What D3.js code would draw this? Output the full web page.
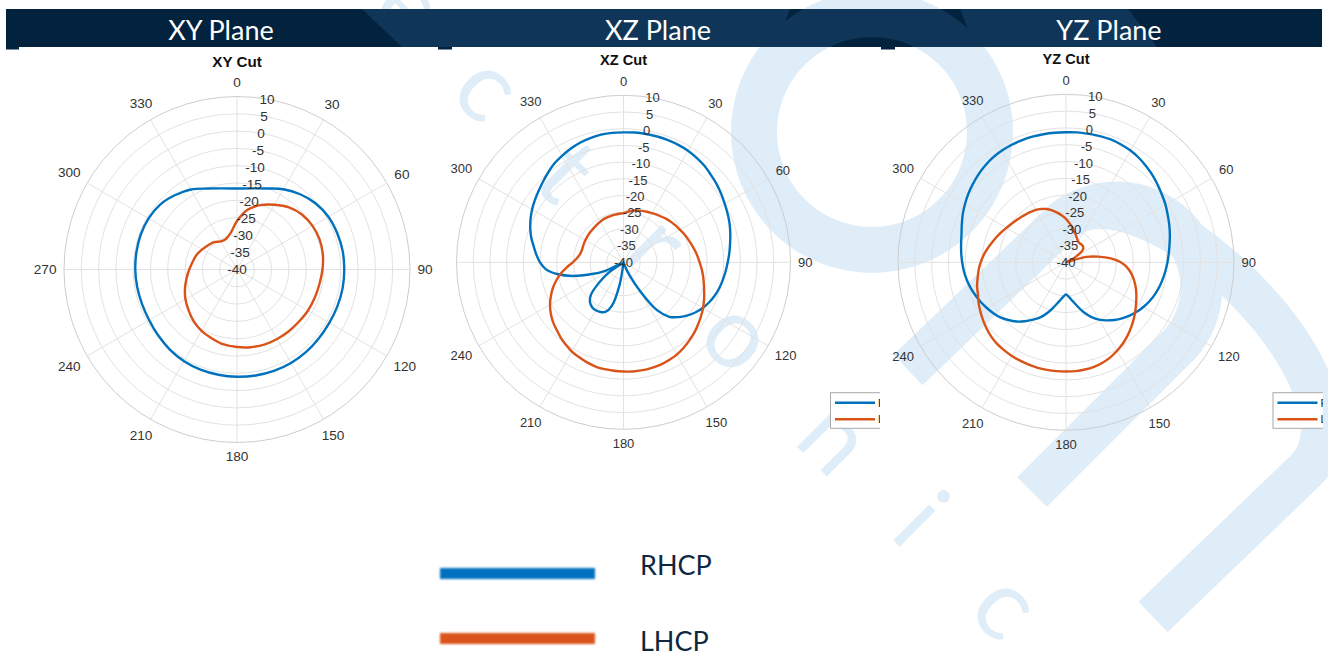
<!DOCTYPE html>
<html><head><meta charset="utf-8">
<script src="https://cdn.jsdelivr.net/npm/d3@7"></script>
<style>body{margin:0;background:#fff;} svg{display:block;}</style>
</head><body>
<svg id="chart" width="1328" height="656"></svg>
<script>
// ---------- data ----------
const thetaTicks = [0,30,60,90,120,150,180,210,240,270,300,330];
const rTicks = [-40,-35,-30,-25,-20,-15,-10,-5,0,5,10];
const headers = ["XY Plane","XZ Plane","YZ Plane"];
const titles = ["XY Cut","XZ Cut","YZ Cut"];
const seriesNames = ["RHCP","LHCP"];

const xyAngles = [0,10,20,30,40,50,60,70,80,90,100,110,120,130,140,150,160,170,180,190,200,210,220,230,240,250,260,270,280,290,300,310,320,330,340,350];
const xyRHCP = [-16.6,-16.2,-15.1,-13.2,-11.6,-10.3,-9.5,-9.2,-9.0,-9.0,-9.0,-9.1,-9.2,-9.1,-8.9,-8.8,-8.8,-8.9,-9.0,-9.1,-9.2,-9.4,-9.8,-10.3,-10.7,-10.8,-10.7,-10.6,-10.5,-10.4,-10.5,-10.9,-12.0,-13.3,-15.1,-16.2];
const xyLHCP = [-26.0,-22.5,-20.2,-18.4,-16.6,-15.4,-14.8,-14.6,-14.8,-15.3,-15.8,-16.1,-16.3,-16.6,-16.7,-16.8,-16.9,-17.2,-17.6,-18.0,-18.8,-19.5,-20.5,-21.7,-22.8,-24.0,-25.2,-26.2,-27.0,-27.6,-28.4,-29.1,-29.7,-30.6,-30.6,-29.3];

const xzAngles = [0,5,10,15,20,25,30,35,40,45,50,55,60,65,70,75,80,85,90,95,100,105,110,115,120,125,130,135,140,145,150,155,160,165,170,175,180,185,190,195,200,205,210,215,220,225,230,235,240,245,250,255,260,265,270,275,280,285,290,295,300,305,310,315,320,325,330,335,340,345,350,355];
const xzRHCP = [-1.1,-1.0,-1.0,-1.0,-1.1,-1.2,-1.4,-1.8,-2.3,-3.0,-3.6,-4.3,-5.0,-5.6,-6.2,-6.9,-7.6,-8.2,-8.8,-9.3,-9.8,-10.3,-10.9,-11.7,-12.6,-13.8,-15.2,-16.8,-18.7,-22.5,-30.0,-35.5,-39.0,-42,-45,-45,-45,-42,-33.0,-26.5,-24.2,-23.6,-23.4,-23.6,-24.4,-26.2,-30.3,-34.5,-41,-34.0,-29.5,-24.2,-19.8,-16.6,-15.0,-13.8,-12.7,-11.4,-10.3,-9.3,-8.4,-7.6,-6.8,-5.9,-4.9,-3.9,-3.2,-2.5,-1.9,-1.5,-1.2,-1.1];
const xzLHCP = [-25.3,-24.8,-24.3,-23.9,-23.6,-23.3,-23.0,-22.6,-22.2,-21.7,-21.3,-20.9,-20.5,-20.0,-19.5,-19.0,-18.4,-17.8,-17.2,-16.5,-15.8,-15.1,-14.3,-13.4,-12.5,-11.7,-10.9,-10.1,-9.4,-8.7,-8.1,-7.7,-7.4,-7.3,-7.2,-7.2,-7.3,-7.4,-7.5,-7.7,-8.1,-8.6,-9.1,-9.9,-10.7,-11.6,-12.4,-13.4,-14.6,-16.0,-17.5,-19.2,-21.0,-23.0,-24.8,-26.0,-26.7,-27.0,-27.0,-26.9,-26.8,-26.7,-26.6,-26.5,-26.4,-26.2,-26.0,-25.8,-25.7,-25.6,-25.5,-25.4];

const yzAngles = xzAngles;
const yzRHCP = [-1.3,-1.2,-1.2,-1.1,-1.1,-1.3,-1.6,-2.1,-2.8,-3.5,-4.3,-5.1,-5.8,-6.6,-7.3,-8.0,-8.7,-9.3,-9.8,-10.3,-10.8,-11.3,-11.9,-12.6,-13.4,-14.3,-15.3,-16.4,-17.6,-18.9,-20.3,-22.0,-24.0,-26.3,-28.2,-29.6,-30.4,-29.6,-28.2,-26.3,-24.0,-21.9,-20.3,-18.6,-17.0,-15.7,-14.5,-13.6,-12.8,-12.0,-11.3,-10.6,-10.0,-9.5,-9.1,-8.7,-8.3,-7.8,-7.0,-6.1,-5.3,-4.5,-3.8,-3.1,-2.5,-2.0,-1.7,-1.5,-1.4,-1.3,-1.3,-1.3];
const yzLHCP = [-27.1,-28.3,-29.4,-30.5,-31.4,-32.2,-32.8,-33.0,-33.0,-33.0,-33.3,-34.1,-36.6,-38.6,-40.5,-33.8,-30.3,-26.6,-23.7,-21.7,-20.2,-19.0,-17.9,-16.9,-15.9,-14.8,-13.7,-12.6,-11.5,-10.5,-9.6,-8.8,-8.2,-7.8,-7.6,-7.5,-7.5,-7.5,-7.5,-7.5,-7.6,-7.7,-7.8,-8.0,-8.2,-8.6,-9.2,-9.9,-10.6,-11.3,-12.1,-12.6,-13.3,-13.9,-14.6,-15.4,-16.3,-17.2,-18.0,-18.8,-19.5,-20.1,-20.6,-21.0,-21.4,-21.7,-22.0,-22.5,-23.1,-24.0,-25.0,-26.0];

const wmLetters = ["e","c","t","r","o","n","i","c"];

// ---------- layout ----------
const panels = [
  {cx:237, cy:269.5, R:173, fs:13.6, tfs:15.2, angles:xyAngles, rhcp:xyRHCP, lhcp:xyLHCP, legendX:null, hx:221, clip:[0,437]},
  {cx:623.5, cy:262.3, R:167, fs:13, tfs:14.6, angles:xzAngles, rhcp:xzRHCP, lhcp:xzLHCP, legendX:[830.5,880], hx:658, clip:[450,880]},
  {cx:1066, cy:262.3, R:168, fs:13, tfs:14.6, angles:yzAngles, rhcp:yzRHCP, lhcp:yzLHCP, legendX:[1273,1323], hx:1109, clip:[892,1323]}
];
const C_BLUE = "#0072BD", C_ORANGE = "#D95319";
const labelFont = "'Liberation Sans', Arial, Helvetica, sans-serif";

const svg = d3.select("#chart");
const defs = svg.append("defs");

// header band
svg.append("rect").attr("x",6).attr("y",9).attr("width",1316).attr("height",38).attr("fill","#03223e");
[[6,13],[438,14],[881,14]].forEach(s=>svg.append("rect").attr("x",s[0]).attr("y",47).attr("width",s[1]).attr("height",2.5).attr("fill","#03223e"));

// watermark
const wm = svg.append("g").attr("opacity",0.17);
const WMC = "#4a9ad8";
wm.append("polygon").attr("points","362,9 790,9 775,47 402,47").attr("fill",WMC);
wm.append("polygon").attr("points","960,9 1128,9 1157,47 975,47").attr("fill",WMC);
wm.append("circle").attr("cx",872).attr("cy",132).attr("r",118).attr("fill","none").attr("stroke",WMC).attr("stroke-width",46);
wm.append("path").attr("d","M908,370 L1060,224 A85,85 0 0 1 1180,344 L1032,492")
  .attr("fill","none").attr("stroke",WMC).attr("stroke-width",42);
wm.append("path").attr("d","M1060,224 C1140,144 1386,390 1306,470 L1153,617")
  .attr("fill","none").attr("stroke",WMC).attr("stroke-width",42);
const letterPos = [[405,12,0.26],[483,93,0.26],[567,172,0.34],[652,250,0.26],[733,341,0.26],[830,443,0.26],[922,518,0.36],[1001,611,0.26]];
wm.selectAll("text.wl").data(wmLetters).join("text").attr("class","wl")
  .attr("transform",(d,i)=>`translate(${letterPos[i][0]},${letterPos[i][1]}) rotate(45)`)
  .attr("y",(d,i)=>letterPos[i][2]*100)
  .attr("text-anchor","middle").attr("font-family","Lato, sans-serif").attr("font-weight",400)
  .attr("font-size",100).attr("fill",WMC).text(d=>d);

// header texts
svg.selectAll("text.hdr").data(headers).join("text").attr("class","hdr")
  .attr("x",(d,i)=>panels[i].hx).attr("y",29.5).attr("text-anchor","middle").attr("dominant-baseline","central")
  .attr("font-family","Lato, 'Open Sans', sans-serif").attr("font-size",27).attr("fill","#ffffff").text(d=>d);

// clips
panels.forEach((p,i)=>{
  defs.append("clipPath").attr("id","pclip"+i).append("rect").attr("x",p.clip[0]).attr("y",50).attr("width",p.clip[1]-p.clip[0]).attr("height",430);
  if(p.legendX){
    defs.append("clipPath").attr("id","clip"+i).append("rect").attr("x",p.legendX[0]-2).attr("y",380).attr("width",p.legendX[1]-p.legendX[0]+2).attr("height",60);
  }
});
const blur = defs.append("filter").attr("id","soft").attr("x","-5%").attr("y","-50%").attr("width","110%").attr("height","200%");
blur.append("feGaussianBlur").attr("stdDeviation",0.8);

// polar panels
panels.forEach((p,i)=>{
  const outer = svg.append("g").attr("clip-path",`url(#pclip${i})`);
  const g = outer.append("g").attr("transform",`translate(${p.cx},${p.cy})`);
  const r = d3.scaleLinear().domain([rTicks[0], rTicks[rTicks.length-1]]).range([0,p.R]).clamp(true);
  g.selectAll("circle.grid").data(rTicks.slice(1)).join("circle").attr("class","grid")
    .attr("r",d=>r(d)).attr("fill","none")
    .attr("stroke",(d,j,arr)=> j===arr.length-1 ? "#cdcdcd" : "#e2e2e2").attr("stroke-width",1);
  g.selectAll("line.spoke").data(thetaTicks).join("line").attr("class","spoke")
    .attr("x1",0).attr("y1",0)
    .attr("x2",d=>p.R*Math.sin(d*Math.PI/180)).attr("y2",d=>-p.R*Math.cos(d*Math.PI/180))
    .attr("stroke","#e2e2e2").attr("stroke-width",1);
  const line = d3.lineRadial()
    .angle(d=>d[0]*Math.PI/180).radius(d=>r(d[1]))
    .curve(d3.curveCatmullRomClosed.alpha(0.5));
  [[p.rhcp,C_BLUE],[p.lhcp,C_ORANGE]].forEach(([vals,col])=>{
    const pts = p.angles.map((a,k)=>[a,vals[k]]);
    g.append("path").attr("d",line(pts)).attr("fill","none").attr("stroke",col)
      .attr("stroke-width",2.4).attr("stroke-linejoin","round");
  });
  thetaTicks.forEach(t=>{
    const a = t*Math.PI/180;
    const txt = g.append("text").text(t).attr("text-anchor","middle").attr("dominant-baseline","central")
      .attr("font-family",labelFont).attr("font-size",p.fs).attr("fill","#333333");
    const hw = txt.node().getComputedTextLength()/2;
    const off = p.R + 7.5 + hw*Math.abs(Math.sin(a)) + 0.5*p.fs*Math.abs(Math.cos(a));
    const x = off*Math.sin(a);
    // the source image is cropped: labels falling outside the panel's visible strip are not shown
    if (p.cx + x + hw < p.clip[0] + 2 || p.cx + x - hw > p.clip[1]) { txt.remove(); return; }
    txt.attr("x",x).attr("y",-off*Math.cos(a));
  });
  const ra = 10*Math.PI/180;
  g.selectAll("text.rl").data(rTicks).join("text").attr("class","rl")
    .attr("x",d=>r(d)*Math.sin(ra)).attr("y",d=>-r(d)*Math.cos(ra))
    .attr("text-anchor","middle").attr("dominant-baseline","central")
    .attr("font-family",labelFont).attr("font-size",p.fs).attr("fill","#333333").text(d=>d);
  g.append("text").attr("x",0).attr("y",-(p.R+35)).attr("text-anchor","middle").attr("dominant-baseline","central")
    .attr("font-family",labelFont).attr("font-weight","bold").attr("font-size",p.tfs).attr("fill","#111").text(titles[i]);
  if(p.legendX){
    const lg = svg.append("g").attr("clip-path",`url(#clip${i})`);
    const x0 = p.legendX[0], x1 = p.legendX[1];
    lg.append("rect").attr("x",x0).attr("y",392.7).attr("width",x1-x0+10).attr("height",35.6)
      .attr("fill","#fff").attr("stroke","#a8a8a8").attr("stroke-width",1);
    [[C_BLUE,402.7],[C_ORANGE,419.3]].forEach(([c,y],k)=>{
      lg.append("line").attr("x1",x0+4.5).attr("x2",x0+44.5).attr("y1",y).attr("y2",y).attr("stroke",c).attr("stroke-width",2.4);
      lg.append("text").attr("x",x0+47.5).attr("y",y).attr("dominant-baseline","central")
        .attr("font-family",labelFont).attr("font-size",11).attr("fill","#222").text(seriesNames[k]);
    });
  }
});

// bottom legend
const legY = [573.5, 638.5];
const legC = ["#0070c0","#d9541e"];
seriesNames.forEach((n,k)=>{
  svg.append("rect").attr("x",440).attr("y",legY[k]-5.5).attr("width",155).attr("height",11)
    .attr("fill",legC[k]).attr("filter","url(#soft)");
  svg.append("text").attr("x",640).attr("y",legY[k]+ (k===0?1:12.5)).attr("font-family","Lato, 'Open Sans', sans-serif")
    .attr("font-size",27).attr("fill","#0e2841").text(n);
});
</script>
</body></html>
